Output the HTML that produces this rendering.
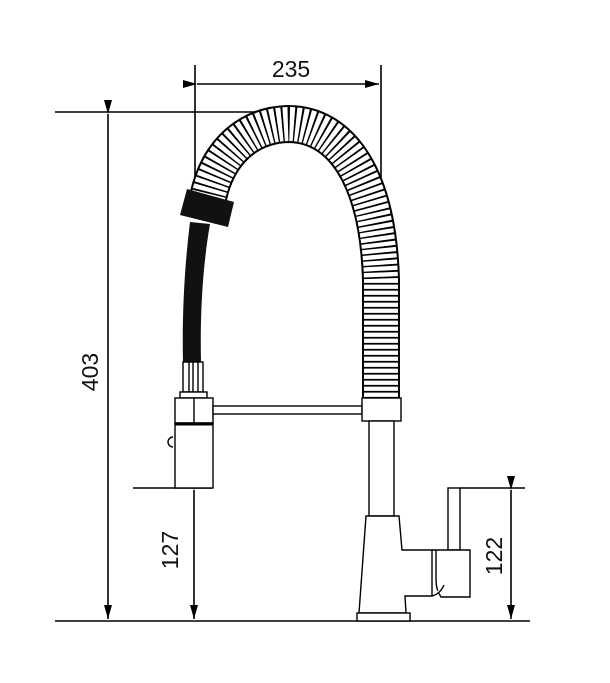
<!DOCTYPE html>
<html><head><meta charset="utf-8"><style>
html,body{margin:0;padding:0;background:#fff;}
svg{display:block;}
text{font-family:"Liberation Sans",sans-serif;font-size:23px;fill:#111;}
</style></head><body>
<svg width="610" height="683" viewBox="0 0 610 683" xmlns="http://www.w3.org/2000/svg">
<defs>
<marker id="a" viewBox="0 0 14 8" refX="14" refY="4" markerWidth="14" markerHeight="8" orient="auto" markerUnits="userSpaceOnUse"><path d="M0,0 L14,4 L0,8 z" fill="#000"/></marker>
</defs>
<g stroke="#000" stroke-width="1.6" fill="none">
<line x1="55" y1="112" x2="290" y2="112"/>
<line x1="195" y1="65" x2="195" y2="190"/>
<line x1="381" y1="65" x2="381" y2="240"/>
<line x1="55" y1="621" x2="530" y2="621"/>
<line x1="133" y1="488" x2="212" y2="488"/>
<line x1="460" y1="488" x2="525" y2="488"/>
<line x1="197" y1="84" x2="379" y2="84" marker-start="url(#a)" marker-end="url(#a)"/>
<line x1="108" y1="114" x2="108" y2="619" marker-start="url(#a)" marker-end="url(#a)"/>
<line x1="194" y1="490" x2="194" y2="619" marker-start="url(#a)" marker-end="url(#a)"/>
<line x1="511" y1="490" x2="511" y2="619" marker-start="url(#a)" marker-end="url(#a)"/>
</g>
<text x="291" y="77" text-anchor="middle">235</text>
<text transform="translate(98,372) rotate(-90)" text-anchor="middle">403</text>
<text transform="translate(178,550) rotate(-90)" text-anchor="middle">127</text>
<text transform="translate(502,556) rotate(-90)" text-anchor="middle">122</text>

<!-- spring -->
<path d="M208,198 C218,150 250,125 288,124 C340,124 378,175 381,280 L381,398" stroke="#000" stroke-width="38" fill="none"/>
<path d="M208,198 C218,150 250,125 288,124 C340,124 378,175 381,280 L381,398" stroke="#fff" stroke-width="34" fill="none" stroke-dasharray="4.3 1.7"/>

<!-- hose -->
<path d="M190,222 L210,224 C202,270 200,320 201,362 L183,362 C182,320 184,270 190,222 z" fill="#111"/>
<polygon points="187,189 234,202 228,227 180,215" fill="#111"/>
<g stroke="#000" stroke-width="1.4" fill="#fff">
<rect x="183" y="362" width="20" height="30"/>
<line x1="189" y1="362" x2="189" y2="392"/>
<line x1="193" y1="362" x2="193" y2="392"/>
<line x1="198" y1="362" x2="198" y2="392"/>
<rect x="180" y="392" width="27" height="6"/>
<rect x="175" y="398" width="38" height="25"/>
<line x1="194" y1="398" x2="194" y2="423"/>
<rect x="175" y="423" width="38" height="65"/>
<line x1="175" y1="424" x2="213" y2="424" stroke-width="3"/>
<path d="M173,437 A5,5 0 0 0 173,447"/>
<rect x="213" y="406" width="149" height="8"/>
<rect x="362" y="398" width="39" height="23"/>
<rect x="369" y="421" width="25" height="95"/>
<path d="M366,516 L399,516 L402,550 L432,550 L432,596 L405,596 L406,613 L359,613 z"/>
<rect x="357" y="613" width="53" height="8"/>
<rect x="448" y="488" width="12" height="62"/>
<path d="M432,550 L470,550 L470,597 L441,597 Q436,590 436,580 L436,550"/>
<path d="M432,596 Q440,594 444,585"/>
</g>
</svg>
</body></html>
